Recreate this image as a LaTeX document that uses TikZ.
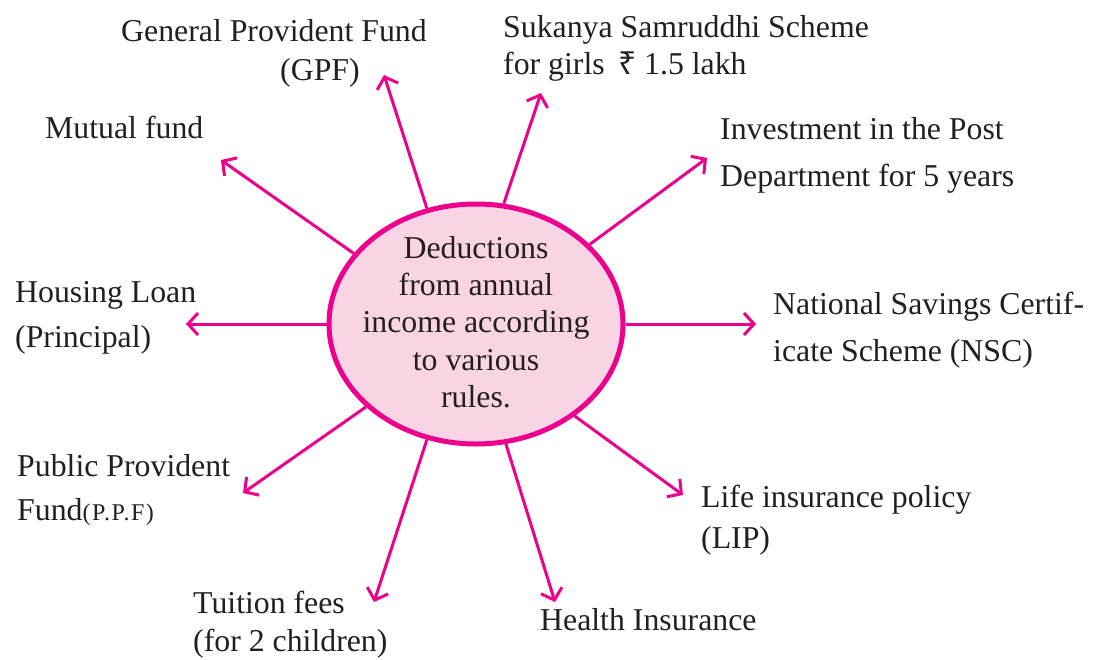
\documentclass[tikz,border=0pt]{standalone}
\usepackage{fontspec}
\setmainfont{Liberation Serif}
\newfontfamily\rupeefont{Noto Sans}
\usetikzlibrary{arrows.meta,shapes.geometric}
\definecolor{mag}{RGB}{236,0,140}
\definecolor{pinkfill}{RGB}{249,212,229}
\definecolor{ink}{RGB}{35,31,32}
\begin{document}
\begin{tikzpicture}[x=1pt,y=-1pt,
  lbl/.style={anchor=base west, inner sep=0pt, text=ink, align=left, font=\fontsize{31.8}{#1}\selectfont},
  lbl/.default=38,
  ctext/.style={inner sep=0pt, text=ink, align=center, font=\fontsize{31.8}{37.3}\selectfont},
  bubble/.style={ellipse, draw=mag, line width=5pt, fill=pinkfill, minimum width=294pt, minimum height=240pt, inner sep=0pt},
  arr/.style={draw=mag, line width=3pt, -{Straight Barb[length=10pt,width=22pt]}}]
\useasboundingbox (0,0) rectangle (1100,659);
\node[bubble] (c) at (476,324) {};
\node[ctext] (ct) at (476,322) {Deductions\\from annual\\income according\\to various\\rules.};
% labels (anchor = baseline of last line)
\node[lbl] (gpf1) at (121,41) {General Provident Fund};
\node[lbl] (gpf2) at (280,80) {(GPF)};
\node[lbl=37] (ssy) at (503,74) {Sukanya Samruddhi Scheme\\for girls\ \,{\rupeefont ₹} 1.5 lakh};
\node[lbl] (mf) at (45,138) {Mutual fund};
\node[lbl=47] (post) at (720,186) {Investment in the Post\\Department for 5 years};
\node[lbl=47] (nsc) at (773,361) {National Savings Certif-\\icate Scheme (NSC)};
\node[lbl=45] (hl) at (15,347) {Housing Loan\\(Principal)};
\node[lbl=44] (ppf) at (17,520) {Public Provident\\Fund{\fontsize{24}{24}\selectfont\addfontfeature{LetterSpace=6}(P.P.F)}};
\node[lbl=41] (lip) at (701,548) {Life insurance policy\\(LIP)};
\node[lbl=38] (tf) at (193,651) {Tuition fees\\(for 2 children)};
\node[lbl] (hi) at (540,630) {Health Insurance};
% arrow tips
\coordinate (tmf) at (221,160);
\coordinate (tgpf) at (384,75);
\coordinate (tssy) at (541,93);
\coordinate (tpost) at (707,158);
\coordinate (tnsc) at (756,324);
\coordinate (tlip) at (683,495);
\coordinate (thi) at (555,602);
\coordinate (ttf) at (374,602);
\coordinate (tppf) at (243,493);
\coordinate (thl) at (186,324);
% arrows
\draw[arr] (c.150.7) -- (tmf);
\draw[arr] (c.113) -- (tgpf);
\draw[arr] (c.77.1) -- (tssy);
\draw[arr] (c.35.7) -- (tpost);
\draw[arr] (c.0) -- (tnsc);
\draw[arr] (c.-43.5) -- (tlip);
\draw[arr] (c.-76.9) -- (thi);
\draw[arr] (c.-113.1) -- (ttf);
\draw[arr] (c.-143.1) -- (tppf);
\draw[arr] (c.180) -- (thl);
\end{tikzpicture}
\end{document}
